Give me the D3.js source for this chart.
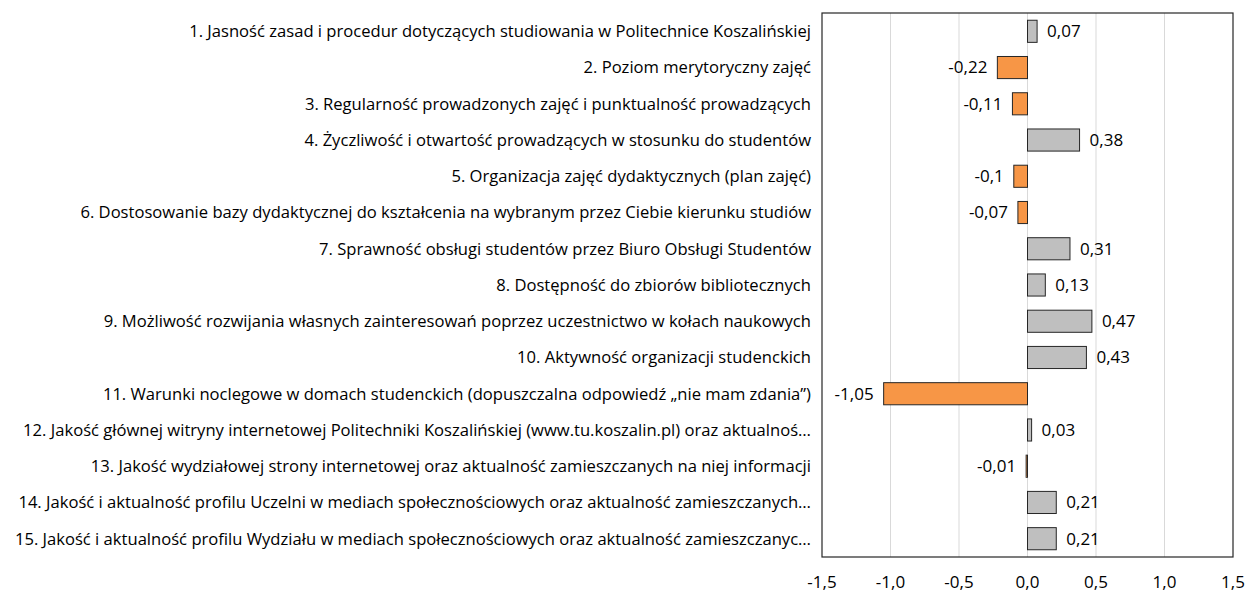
<!DOCTYPE html>
<html>
<head>
<meta charset="utf-8">
<script src="https://cdn.jsdelivr.net/npm/d3@7.9.0/dist/d3.min.js"></script>
<style>
  body { margin: 0; background: #fff; }
  svg { display: block; font-family: 'Open Sans', sans-serif; }
</style>
</head>
<body>
<svg id="chart" width="1247" height="592"></svg>
<script>
// === Data ===
const questions = [
  '1. Jasność zasad i procedur dotyczących studiowania w Politechnice Koszalińskiej',
  '2. Poziom merytoryczny zajęć',
  '3. Regularność prowadzonych zajęć i punktualność prowadzących',
  '4. Życzliwość i otwartość prowadzących w stosunku do studentów',
  '5. Organizacja zajęć dydaktycznych (plan zajęć)',
  '6. Dostosowanie bazy dydaktycznej do kształcenia na wybranym przez Ciebie kierunku studiów',
  '7. Sprawność obsługi studentów przez Biuro Obsługi Studentów',
  '8. Dostępność do zbiorów bibliotecznych',
  '9. Możliwość rozwijania własnych zainteresowań poprzez uczestnictwo w kołach naukowych',
  '10. Aktywność organizacji studenckich',
  '11. Warunki noclegowe w domach studenckich (dopuszczalna odpowiedź „nie mam zdania”)',
  '12. Jakość głównej witryny internetowej Politechniki Koszalińskiej (www.tu.koszalin.pl) oraz aktualnoś…',
  '13. Jakość wydziałowej strony internetowej oraz aktualność zamieszczanych na niej informacji',
  '14. Jakość i aktualność profilu Uczelni w mediach społecznościowych oraz aktualność zamieszczanych…',
  '15. Jakość i aktualność profilu Wydziału w mediach społecznościowych oraz aktualność zamieszczanyc…'
];
const scores = [0.07, -0.22, -0.11, 0.38, -0.1, -0.07, 0.31, 0.13, 0.47, 0.43, -1.05, 0.03, -0.01, 0.21, 0.21];
const xTicks = [-1.5, -1.0, -0.5, 0.0, 0.5, 1.0, 1.5];

// === Layout ===
const margin = { top: 13, right: 14, bottom: 35, left: 822 };
const width = 1247 - margin.left - margin.right;
const height = 592 - margin.top - margin.bottom;

const svg = d3.select('#chart');
const g = svg.append('g').attr('transform', `translate(${margin.left},${margin.top})`);

const x = d3.scaleLinear().domain([-1.5, 1.5]).range([0, width]);
const y = d3.scaleBand().domain(questions).range([0, height]).paddingInner(0.39).paddingOuter(0.2);
const fmt = (v) => v.toString().replace('.', ',');

// gridlines
g.selectAll('.grid')
  .data(xTicks.slice(1, -1))
  .join('line')
  .attr('x1', (d) => x(d)).attr('x2', (d) => x(d))
  .attr('y1', 0).attr('y2', height)
  .attr('stroke', '#d9d9d9').attr('stroke-width', 1);

// bars
g.selectAll('.bar')
  .data(scores)
  .join('rect')
  .attr('x', (d) => x(Math.min(0, d)))
  .attr('width', (d) => Math.abs(x(d) - x(0)))
  .attr('y', (d, i) => y(questions[i]))
  .attr('height', y.bandwidth())
  .attr('fill', (d) => (d < 0 ? '#f79646' : '#bfbfbf'))
  .attr('stroke', '#262626').attr('stroke-width', 1);

// value labels
g.selectAll('.val')
  .data(scores)
  .join('text')
  .attr('x', (d) => (d < 0 ? x(d) - 10 : x(d) + 10))
  .attr('y', (d, i) => y(questions[i]) + y.bandwidth() / 2)
  .attr('dy', '0.35em')
  .attr('text-anchor', (d) => (d < 0 ? 'end' : 'start'))
  .attr('font-size', 17)
  .attr('fill', '#000')
  .text((d) => fmt(d));

// frame
g.append('rect')
  .attr('x', 0).attr('y', 0).attr('width', width).attr('height', height)
  .attr('fill', 'none').attr('stroke', '#262626').attr('stroke-width', 1.2);

// category labels
g.selectAll('.cat')
  .data(questions)
  .join('text')
  .attr('x', -11)
  .attr('y', (d) => y(d) + y.bandwidth() / 2)
  .attr('dy', '0.35em')
  .attr('text-anchor', 'end')
  .attr('font-size', 16.6)
  .attr('fill', '#000')
  .text((d) => d);

// x axis labels
g.selectAll('.tick')
  .data(xTicks)
  .join('text')
  .attr('x', (d) => x(d))
  .attr('y', height + 25)
  .attr('dy', '0.35em')
  .attr('text-anchor', 'middle')
  .attr('font-size', 17)
  .attr('fill', '#000')
  .text((d) => d.toFixed(1).replace('.', ','));
</script>
</body>
</html>
